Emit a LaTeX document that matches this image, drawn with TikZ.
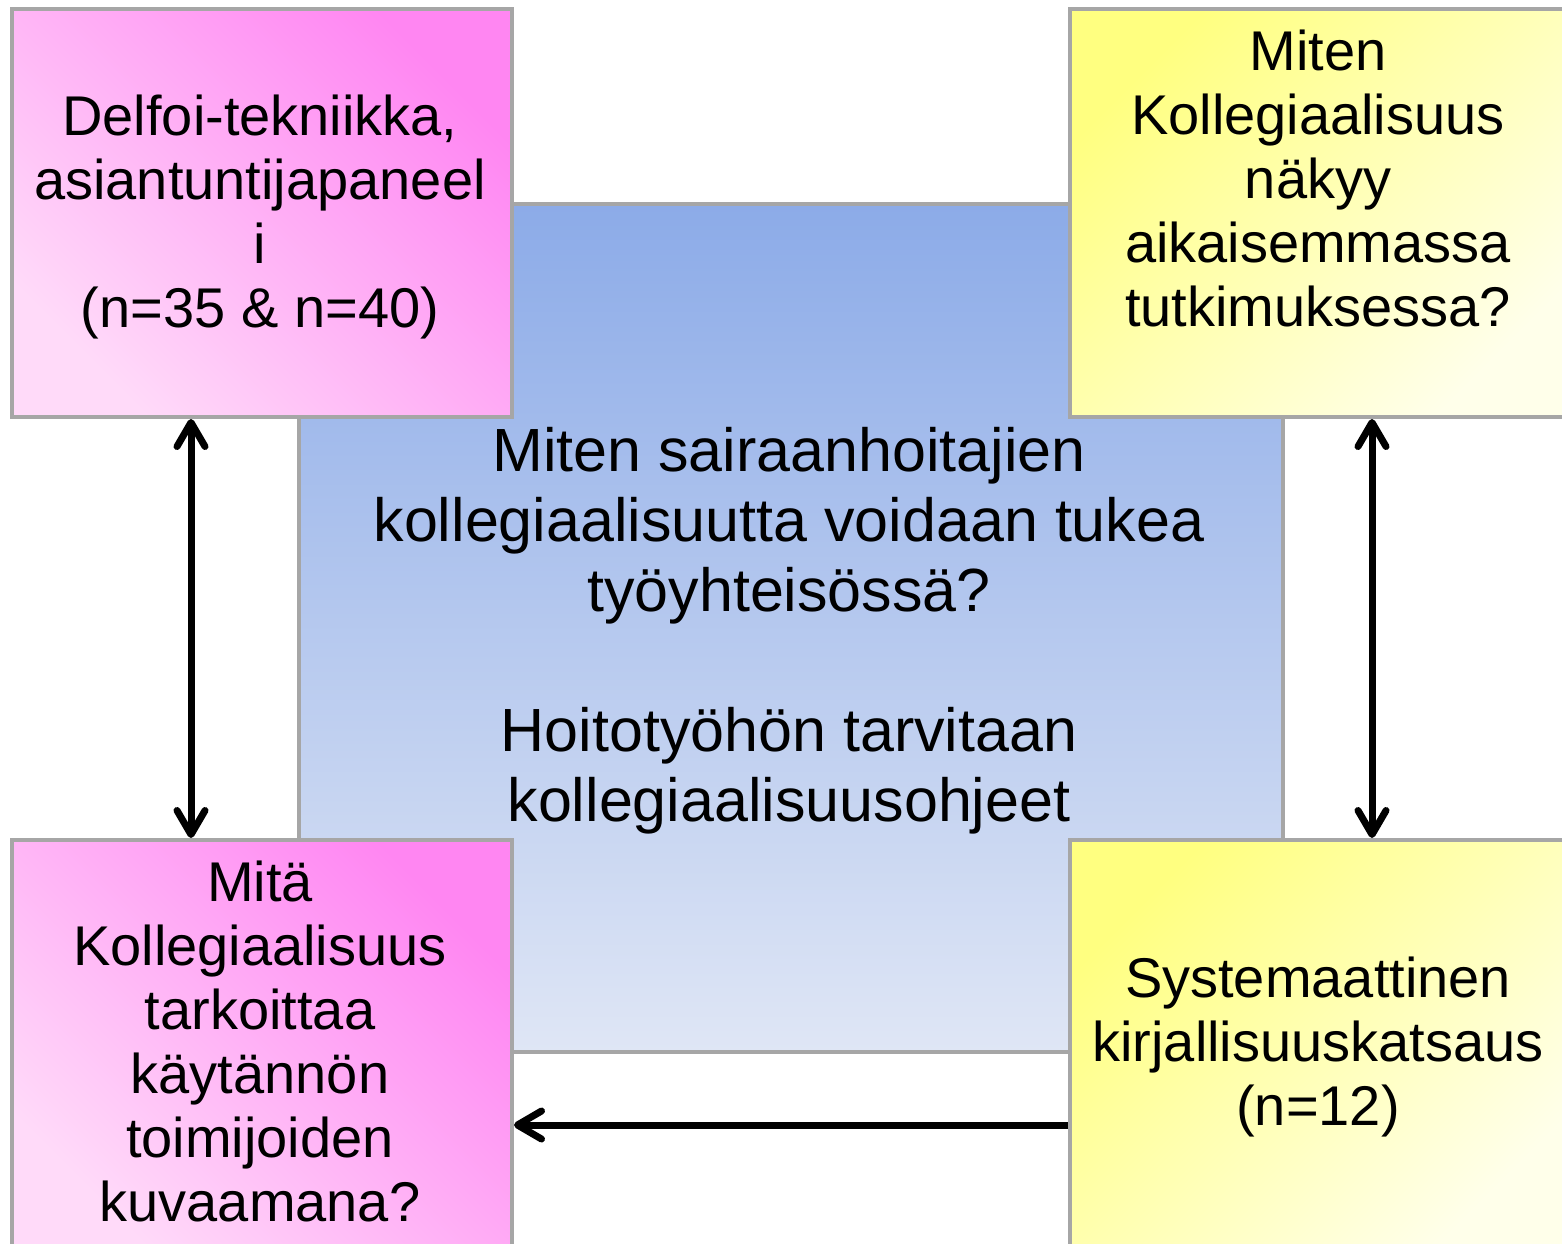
\documentclass[tikz,border=0pt]{standalone}
\usepackage{fontspec}
\setmainfont{Liberation Sans}
\usetikzlibrary{arrows.meta}
\definecolor{boxgray}{HTML}{A6A6A6}
\definecolor{pinkdark}{HTML}{FF86F2}
\definecolor{pinklight}{HTML}{FFDAF9}
\definecolor{yellowdark}{HTML}{FFFF80}
\definecolor{yellowlight}{HTML}{FFFFEA}
\definecolor{bluedark}{HTML}{8CABE8}
\definecolor{bluelight}{HTML}{DFE6F5}
\tikzset{
  box/.style={draw=boxgray, line width=4pt, inner sep=0pt, anchor=north west},
  pinkbox/.style={box, top color=pinkdark, bottom color=pinklight, shading angle=-45},
  yellowbox/.style={box, top color=yellowdark, bottom color=yellowlight, shading angle=45},
  bluebox/.style={box, top color=bluedark, bottom color=bluelight},
  smalltext/.style={align=center, font=\fontsize{56}{64}\selectfont, inner sep=0pt},
  bigtext/.style={align=center, font=\fontsize{61}{70}\selectfont, inner sep=0pt},
  tip/.style={Straight Barb[length=24pt, width=28pt, line cap=round, line join=round]},
  conn/.style={line width=7pt, {Straight Barb[length=24pt, width=28pt, line cap=round, line join=round]}-{Straight Barb[length=24pt, width=28pt, line cap=round, line join=round]}},
  conn1/.style={line width=7pt, -{Straight Barb[length=24pt, width=28pt, line cap=round, line join=round]}}
}
\begin{document}
\begin{tikzpicture}[x=1pt, y=-1pt]
\useasboundingbox (0,0) rectangle (1562,1243);
\clip (0,0) rectangle (1562,1243);
\fill[white] (0,0) rectangle (1562,1243);
% central box
\node[bluebox, minimum width=984pt, minimum height=848pt] (center) at (297,202) {};
% corner boxes
\node[pinkbox, minimum width=500pt, minimum height=408pt] (tl) at (10,7) {};
\node[yellowbox, minimum width=500pt, minimum height=408pt] (tr) at (1068,7) {};
\node[pinkbox, minimum width=500pt, minimum height=408pt] (bl) at (10,838) {};
\node[yellowbox, minimum width=500pt, minimum height=408pt] (br) at (1068,838) {};
% texts
\node[bigtext] (ctext) at (789,631) {Miten sairaanhoitajien\\kollegiaalisuutta voidaan tukea\\työyhteisössä?\\[70pt]Hoitotyöhön tarvitaan\\kollegiaalisuusohjeet};
\node[smalltext] (tltext) at (260,217) {Delfoi-tekniikka,\\asiantuntijapaneel\\i\\(n=35 \& n=40)};
\node[smalltext] (trtext) at (1318,178) {Miten\\Kollegiaalisuus\\näkyy\\aikaisemmassa\\tutkimuksessa?};
\node[smalltext] (bltext) at (260,1041) {Mitä\\Kollegiaalisuus\\tarkoittaa\\käytännön\\toimijoiden\\kuvaamana?};
\node[smalltext] (brtext) at (1318,1047) {Systemaattinen\\kirjallisuuskatsaus\\(n=12)};
% connectors
\draw[conn] (tl.south -| 191,0) -- (bl.north -| 191,0);
\draw[conn] (tr.south -| 1372,0) -- (br.north -| 1372,0);
\coordinate (harrow) at (1068,1125);
\draw[conn1] (br.west |- harrow) -- (bl.east |- harrow);
\end{tikzpicture}
\end{document}
